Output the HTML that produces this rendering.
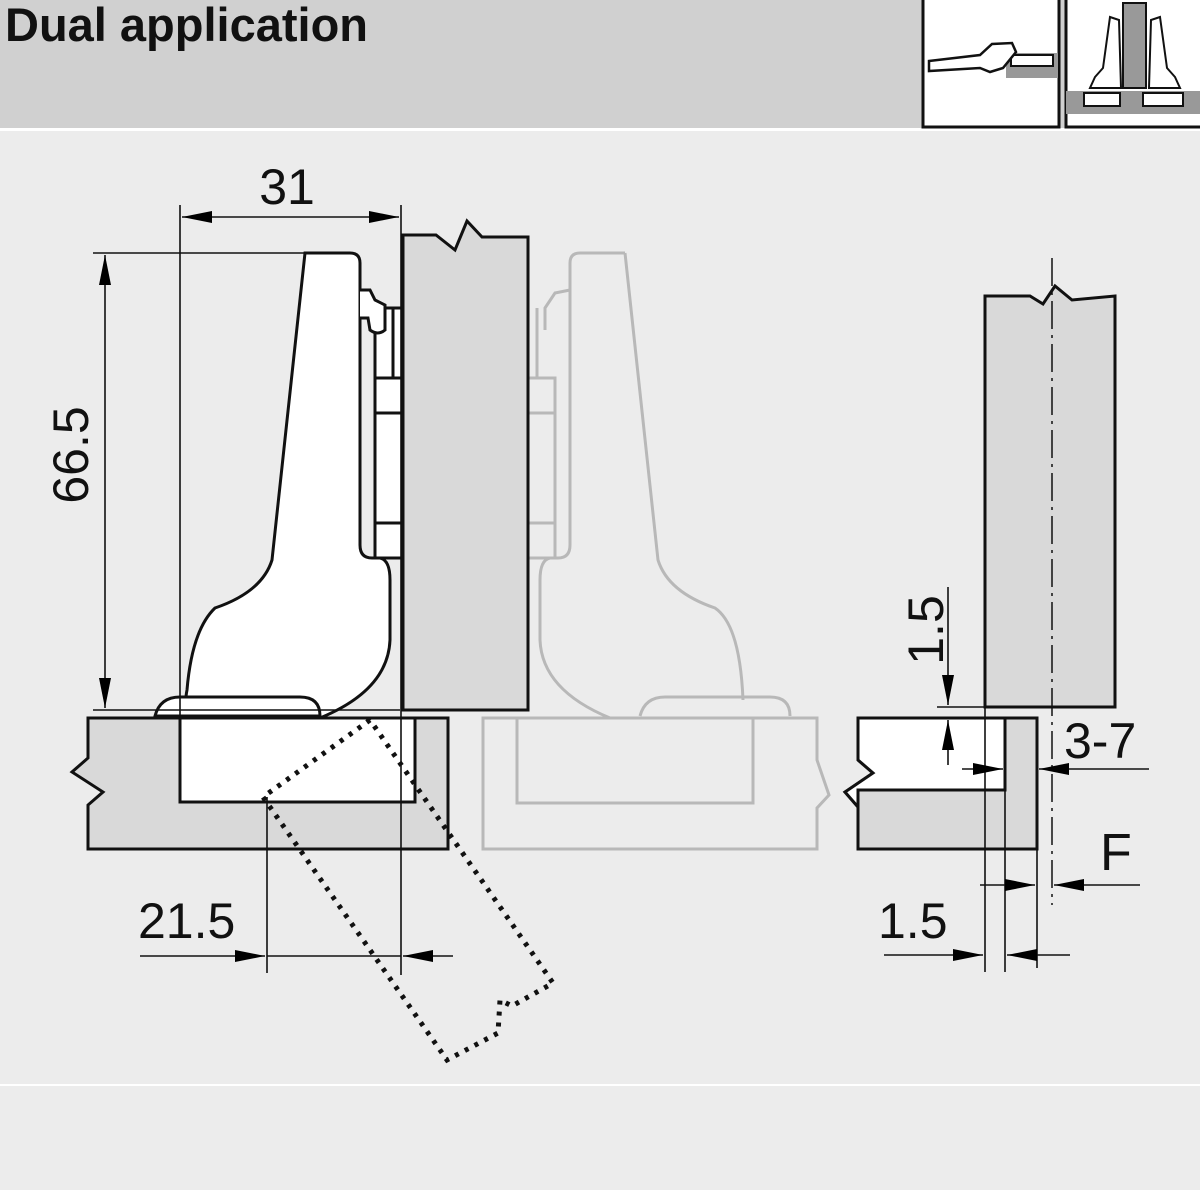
<!DOCTYPE html>
<html><head><style>
html,body{margin:0;padding:0;background:#ececec}
svg{display:block}
text{font-family:"Liberation Sans",sans-serif;fill:#111}
</style></head><body>
<svg width="1200" height="1200" viewBox="0 0 1200 1200" xmlns="http://www.w3.org/2000/svg">
<defs>
<marker id="a" viewBox="0 0 30 12" refX="30" refY="6" markerWidth="30" markerHeight="12" orient="auto-start-reverse" markerUnits="userSpaceOnUse"><path d="M0,0 L30,6 L0,12Z" fill="#000"/></marker>
</defs>
<rect width="1200" height="1200" fill="#ececec"/>
<rect width="1200" height="128" fill="#d0d0d0"/>
<rect y="128" width="1200" height="3" fill="#fff"/>
<rect y="1084" width="1200" height="2" fill="#fff"/>
<rect y="1190" width="1200" height="10" fill="#fff"/>
<text x="5" y="41" font-size="47" font-weight="bold">Dual application</text>
<!-- icons -->
<rect x="923" y="-2" width="136" height="129" fill="#fff" stroke="#111" stroke-width="3"/>
<rect x="1066" y="-2" width="140" height="129" fill="#fff" stroke="#111" stroke-width="3"/>
<path d="M1006,53 H1058 V78 H1006Z" fill="#999"/>
<path d="M1011,55 H1053 V66 H1011Z" fill="#fff" stroke="#111" stroke-width="2"/>
<path d="M929,61 L980,55 L992,44 L1012,43 L1016,52 L1003,68 L990,72 L980,68 L929,71Z" fill="#fff" stroke="#111" stroke-width="2.5"/>
<rect x="1066" y="91" width="134" height="23" fill="#999"/>
<rect x="1084" y="93" width="36" height="13" fill="#fff" stroke="#111" stroke-width="2"/>
<rect x="1143" y="93" width="40" height="13" fill="#fff" stroke="#111" stroke-width="2"/>
<rect x="1123" y="3" width="23" height="85" fill="#999" stroke="#111" stroke-width="2"/>
<path d="M1110,17 L1119,20 L1121,88 L1090,88 L1095,77 L1103,68 Z" fill="#fff" stroke="#111" stroke-width="2"/>
<path d="M1160,17 L1151,20 L1149,88 L1180,88 L1175,77 L1167,68 Z" fill="#fff" stroke="#111" stroke-width="2"/>

<!-- ghost hinge -->
<g fill="none" stroke="#b8b8b8" stroke-width="3">
<g transform="translate(930,0) scale(-1,1)">
<path d="M305,253 H350 Q360,253 360,263 V545 Q360,558 372,558 H380 Q390,560 390,580 V640 Q388,690 320,718 M305,253 L272,560 Q262,592 215,608 Q190,625 187,700"/>
<path d="M360,290 L375,293 L385,308 L385,330 M375,378 H403 V558 H375Z M375,413 H403 M375,523 H403 M393,308 V378"/>
</g>
<path d="M640,716 Q645,697 665,697 H770 Q790,697 790,716"/>
<path d="M483,718 H817 V760 L829,795 L817,808 V849 H483Z"/>
<rect x="517" y="718" width="236" height="85"/>
</g>

<!-- door -->
<path d="M403,235 H436 L455,250 L467,221 L482,237 H528 V710 H403Z" fill="#d9d9d9" stroke="#111" stroke-width="3"/>
<!-- panel -->
<path d="M88,718 H448 V849 H88 V805 L103,792 L72,772 L88,758Z" fill="#d9d9d9" stroke="#111" stroke-width="3"/>
<rect x="180" y="718" width="235" height="84" fill="#fff" stroke="#111" stroke-width="3"/>
<!-- hinge -->
<g stroke="#111" stroke-width="3" fill="#fff">
<rect x="375" y="308" width="28" height="250"/>
<path d="M305,253 H350 Q360,253 360,263 V545 Q360,558 372,558 H380 Q390,560 390,580 V640 Q388,690 320,718 H185 Q185,700 187,690 Q192,630 215,608 Q262,592 272,560Z"/>
<path d="M360,290 L370,290 L375,300 L385,305 L385,330 Q378,336 370,330 L368,318 L360,318" />
<path d="M155,716 Q160,697 180,697 H300 Q320,697 320,716Z"/>
<path d="M375,378 H403 M375,413 H403 M375,523 H403 M393,308 V378" fill="none"/>
</g>
<!-- dotted rotated door -->
<path d="M370,720 L263,797 L447,1060 L498,1033 L500,1000 L512,1006 L553,983 Z" fill="none" stroke="#111" stroke-width="5" stroke-dasharray="4 7"/>

<!-- dimensions left -->
<g stroke="#111" stroke-width="1.6" fill="none">
<path d="M180,205 V718 M401,205 V975 M93,253 H305 M93,710 H400 M267,797 V973"/>
<path d="M182,217 H399" marker-start="url(#a)" marker-end="url(#a)"/>
<path d="M105,255 V708" marker-start="url(#a)" marker-end="url(#a)"/>
<path d="M140,956 H265" marker-end="url(#a)"/>
<path d="M267,956 H401"/>
<path d="M453,956 H403" marker-end="url(#a)"/>
</g>
<text x="287" y="204" font-size="50" text-anchor="middle">31</text>
<text transform="translate(88,455) rotate(-90)" font-size="50" text-anchor="middle">66.5</text>
<text x="138" y="938" font-size="50">21.5</text>

<!-- right section -->
<path d="M985,296 H1030 L1043,304 L1055,286 L1072,300 L1115,296 V707 H985Z" fill="#d9d9d9" stroke="#111" stroke-width="3"/>
<path d="M858,718 H1037 V849 H858 V807 L845,792 L873,773 L858,760Z" fill="#d9d9d9" stroke="#111" stroke-width="3"/>
<path d="M858,718 H1005 V790 H858 V807 L845,792 L873,773 L858,760Z" fill="#fff" stroke="#111" stroke-width="3"/>
<path d="M1052,258 V905" stroke="#111" stroke-width="1.5" stroke-dasharray="28 6 3 6"/>
<g stroke="#111" stroke-width="1.6" fill="none">
<path d="M937,707 H985 M985,707 V972 M1005,790 V972 M1037,849 V968"/>
<path d="M948,587 V705" marker-end="url(#a)"/>
<path d="M948,765 V720" marker-end="url(#a)"/>
<path d="M962,769 H1003" marker-end="url(#a)"/>
<path d="M1149,769 H1039" marker-end="url(#a)"/>
<path d="M980,885 H1035" marker-end="url(#a)"/>
<path d="M1140,885 H1054" marker-end="url(#a)"/>
<path d="M884,955 H983" marker-end="url(#a)"/>
<path d="M1070,955 H1007" marker-end="url(#a)"/>
</g>
<text transform="translate(943,630) rotate(-90)" font-size="50" text-anchor="middle">1.5</text>
<text x="1064" y="758" font-size="50">3-7</text>
<text x="1100" y="870" font-size="52">F</text>
<text x="878" y="938" font-size="50">1.5</text>
</svg>
</body></html>
